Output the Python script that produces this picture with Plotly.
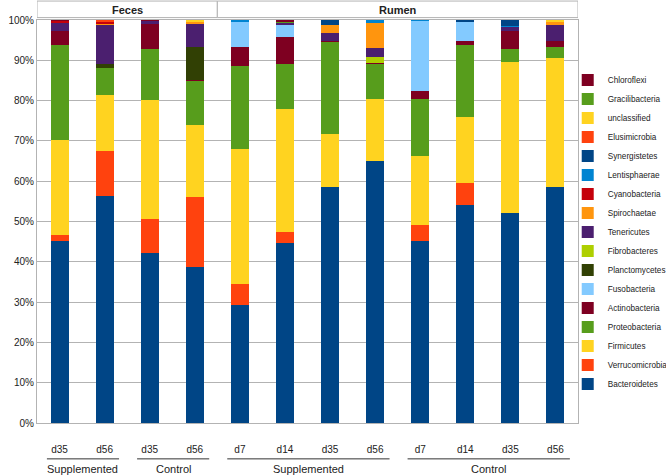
import plotly.graph_objects as go

days = ["d35", "d56", "d35", "d56", "d7", "d14", "d35", "d56", "d7", "d14", "d35", "d56"]
treatments = ["Supplemented", "Supplemented", "Control", "Control",
              "Supplemented", "Supplemented", "Supplemented", "Supplemented",
              "Control", "Control", "Control", "Control"]
sites = ["Feces"] * 4 + ["Rumen"] * 8

phyla = ["Bacteroidetes", "Verrucomicrobia", "Firmicutes", "Proteobacteria",
         "Actinobacteria", "Fusobacteria", "Planctomycetes", "Fibrobacteres",
         "Tenericutes", "Spirochaetae", "Cyanobacteria", "Lentisphaerae",
         "Synergistetes", "Elusimicrobia", "unclassified", "Gracilibacteria",
         "Chloroflexi"]

Bacteroidetes = [45.1, 56.3, 42.3, 38.7, 29.4, 44.7, 58.5, 65.1, 45.1, 54.1, 52.2, 58.5]
Verrucomicrobia = [1.5, 11.1, 8.4, 17.5, 5.1, 2.7, 0, 0, 4.0, 5.4, 0, 0]
Firmicutes = [23.7, 14.0, 29.5, 17.8, 33.6, 30.5, 13.2, 15.4, 17.2, 16.5, 37.3, 32.0]
Proteobacteria = [23.5, 6.6, 12.5, 10.9, 20.4, 11.3, 22.9, 8.6, 14.2, 17.8, 3.4, 2.7]
Actinobacteria = [3.5, 0, 6.3, 0.2, 4.8, 6.7, 0.2, 0.3, 1.8, 1.1, 4.4, 1.5]
Fusobacteria = [0, 0, 0, 0, 6.2, 3.1, 0, 0, 17.5, 4.5, 0, 0]
Planctomycetes = [0, 1.1, 0, 8.1, 0, 0, 0, 0, 0, 0, 0, 0]
Fibrobacteres = [0, 0, 0, 0, 0, 0, 0, 1.5, 0, 0, 0, 0]
Tenericutes = [2.2, 9.7, 0.8, 5.8, 0, 0.3, 2.0, 2.1, 0, 0, 1.0, 4.1]
Spirochaetae = [0, 0.4, 0, 0.6, 0, 0, 2.0, 6.2, 0, 0, 0, 0.9]
Cyanobacteria = [0.3, 0.3, 0, 0, 0, 0, 0, 0, 0, 0, 0, 0]
Lentisphaerae = [0, 0, 0, 0, 0.5, 0, 0, 0.8, 0.2, 0, 0.3, 0]
Synergistetes = [0, 0, 0, 0, 0, 0, 1.2, 0, 0, 0.6, 1.4, 0]
Elusimicrobia = [0, 0.5, 0, 0, 0, 0, 0, 0, 0, 0, 0, 0]
unclassified = [0, 0, 0, 0.4, 0, 0, 0, 0, 0, 0, 0, 0.3]
Gracilibacteria = [0, 0, 0, 0, 0, 0.4, 0, 0, 0, 0, 0, 0]
Chloroflexi = [0.2, 0, 0.2, 0, 0, 0.3, 0, 0, 0, 0, 0, 0]

values = [Bacteroidetes, Verrucomicrobia, Firmicutes, Proteobacteria, Actinobacteria,
          Fusobacteria, Planctomycetes, Fibrobacteres, Tenericutes, Spirochaetae,
          Cyanobacteria, Lentisphaerae, Synergistetes, Elusimicrobia, unclassified,
          Gracilibacteria, Chloroflexi]

palette = ["#004586", "#ff420e", "#ffd320", "#579d1c", "#7e0021", "#83caff",
           "#314004", "#aecf00", "#4b1f6f", "#ff950e", "#c5000b", "#0084d1"]

FONT = "Liberation Sans, Arial, sans-serif"
TXT = "#222222"
GRID = "#b3b3b3"

x = list(range(len(days)))

fig = go.Figure()
for i, (name, vals) in enumerate(zip(phyla, values)):
    fig.add_trace(go.Bar(
        x=x, y=vals, name=name,
        marker=dict(color=palette[i % len(palette)], line=dict(width=0)),
    ))

shapes = []
annotations = []

# treatment group underlines and labels
groups = []
start = 0
for i in range(1, len(x) + 1):
    if i == len(x) or treatments[i] != treatments[start] or sites[i] != sites[start]:
        groups.append((start, i - 1, treatments[start]))
        start = i
for s, e, label in groups:
    shapes.append(dict(type="line", xref="x", yref="paper",
                       x0=s - 0.28, x1=e + 0.32, y0=-0.089, y1=-0.089,
                       line=dict(color="#333333", width=1)))
    annotations.append(dict(x=(s + e) / 2 + 0.02, y=-0.114, xref="x", yref="paper",
                            text=label, showarrow=False, yanchor="middle",
                            font=dict(family=FONT, size=11, color=TXT)))

# site header boxes
site_groups = []
start = 0
for i in range(1, len(x) + 1):
    if i == len(x) or sites[i] != sites[start]:
        site_groups.append((start, i - 1, sites[start]))
        start = i
for s, e, label in site_groups:
    shapes.append(dict(type="rect", xref="x", yref="paper",
                       x0=s - 0.5, x1=e + 0.5, y0=1.006, y1=1.047,
                       line=dict(color=GRID, width=1), fillcolor="white"))
    annotations.append(dict(x=(s + e) / 2, y=1.026, xref="x", yref="paper",
                            text="<b>" + label + "</b>", showarrow=False,
                            yanchor="middle",
                            font=dict(family=FONT, size=11, color=TXT)))

fig.update_layout(
    width=666, height=475,
    margin=dict(l=37, r=88, t=20, b=52, autoexpand=False),
    barmode="stack", bargap=0.6,
    plot_bgcolor="white", paper_bgcolor="white",
    font=dict(family=FONT, size=10, color=TXT),
    showlegend=True,
    legend=dict(traceorder="reversed", x=0.981, xanchor="left",
                y=0.474, yanchor="middle", bgcolor="rgba(0,0,0,0)",
                font=dict(family=FONT, size=8.2, color=TXT),
                itemwidth=30),
    xaxis=dict(range=[-0.5, len(x) - 0.5], tickmode="array", tickvals=x,
               ticktext=days, showgrid=False, zeroline=False,
               showline=True, linecolor=GRID, mirror=True,
               ticks="outside", ticklen=17, tickcolor="rgba(0,0,0,0)",
               tickfont=dict(family=FONT, size=10, color=TXT)),
    yaxis=dict(range=[0, 100], tickmode="linear", tick0=0, dtick=10,
               ticksuffix="%", showgrid=True, gridcolor=GRID, gridwidth=1,
               zeroline=False, showline=True, linecolor=GRID, mirror=True,
               tickfont=dict(family=FONT, size=10, color=TXT)),
    shapes=shapes, annotations=annotations,
)

fig.write_html("out.html",
               config={"displayModeBar": False},
               post_script="document.body.style.margin='0px';"
                           "document.body.style.overflow='hidden';")
